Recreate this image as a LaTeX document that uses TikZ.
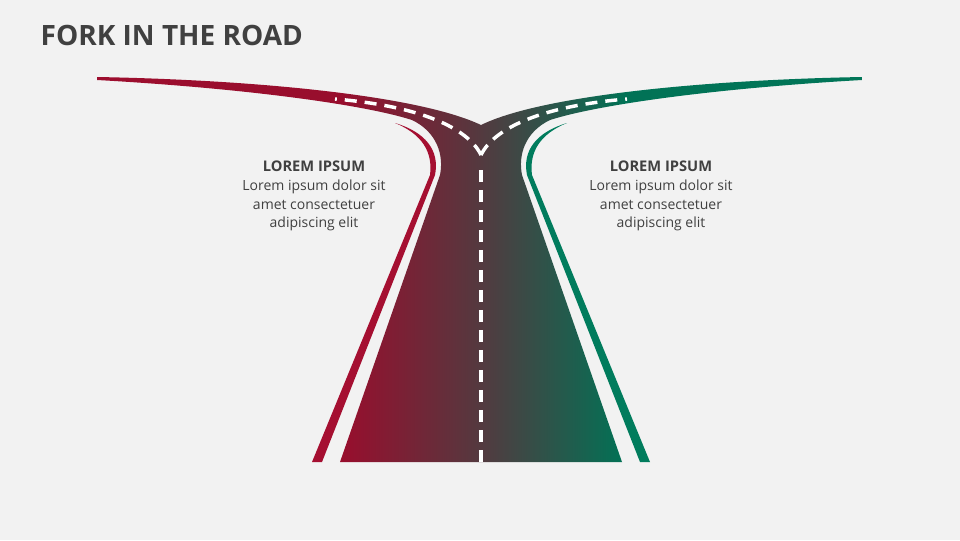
\documentclass[tikz,border=0pt]{standalone}
\usepackage{fontspec}
\setmainfont{Open Sans}
\usetikzlibrary{positioning}
\definecolor{roadred}{HTML}{A50F31}
\definecolor{roadgreen}{HTML}{017C5D}
\definecolor{roadmid}{HTML}{54393F}
\definecolor{inkgray}{HTML}{404040}
\pgfdeclarehorizontalshading{roadshade}{100bp}{color(0bp)=(roadred); color(41bp)=(roadred!92!black); color(50bp)=(roadmid); color(59.5bp)=(roadgreen!92!black); color(100bp)=(roadgreen)}
\begin{document}
\begin{tikzpicture}[x=0.75pt, y=-0.75pt,
  lane/.style = {draw=white, line width=2.6pt, dash pattern=on 9pt off 6pt},
  heading/.style = {font=\bfseries\fontsize{11}{13}\selectfont, text=inkgray},
  body/.style = {font=\fontsize{10.5}{14.2}\selectfont, text=inkgray, align=center}]
  \fill[fill={rgb,255:red,242;green,242;blue,242}] (0,0) rectangle (960,540);
  \useasboundingbox (0,0) rectangle (960,540);
  \node[anchor=west, font=\bfseries\fontsize{21}{24}\selectfont, text=inkgray] (title) at (36,35) {FORK IN THE ROAD};
  % road surface
  \shade[shading=roadshade]
    (97,77) .. controls (260,80) and (420,96) .. (481,125)
    .. controls (540,96) and (700,80) .. (862,77) -- (862,80)
    .. controls (720,88) and (600,104) .. (550,120)
    .. controls (525,132) and (518,155) .. (522,175) -- (622,462) -- (340,462) -- (440,175)
    .. controls (444,155) and (437,132) .. (412,120)
    .. controls (362,104) and (240,88) .. (97,80) -- cycle;
  % curbs
  \fill[roadred] (395,123) .. controls (425,132) and (440,150) .. (435,175) -- (322,462) -- (312,462)
    -- (430,175) .. controls (433,152) and (422,134) .. (395,123) -- cycle;
  \fill[roadgreen] (567,123) .. controls (537,132) and (522,150) .. (527,175) -- (640,462) -- (650,462)
    -- (532,175) .. controls (529,152) and (540,134) .. (567,123) -- cycle;
  % lane markings
  \draw[lane] (481,462) -- (481,165);
  \draw[lane] (481,155) .. controls (468,128) and (420,106) .. (335,99);
  \draw[lane] (481,155) .. controls (494,128) and (542,106) .. (627,99);
  % labels
  \node[heading] (lefthead) at (314,166) {LOREM IPSUM};
  \node[body, below=-1pt of lefthead] (lefttext) {Lorem ipsum dolor sit\\amet consectetuer\\adipiscing elit};
  \node[heading] (righthead) at (661,166) {LOREM IPSUM};
  \node[body, below=-1pt of righthead] (righttext) {Lorem ipsum dolor sit\\amet consectetuer\\adipiscing elit};
\end{tikzpicture}
\end{document}
